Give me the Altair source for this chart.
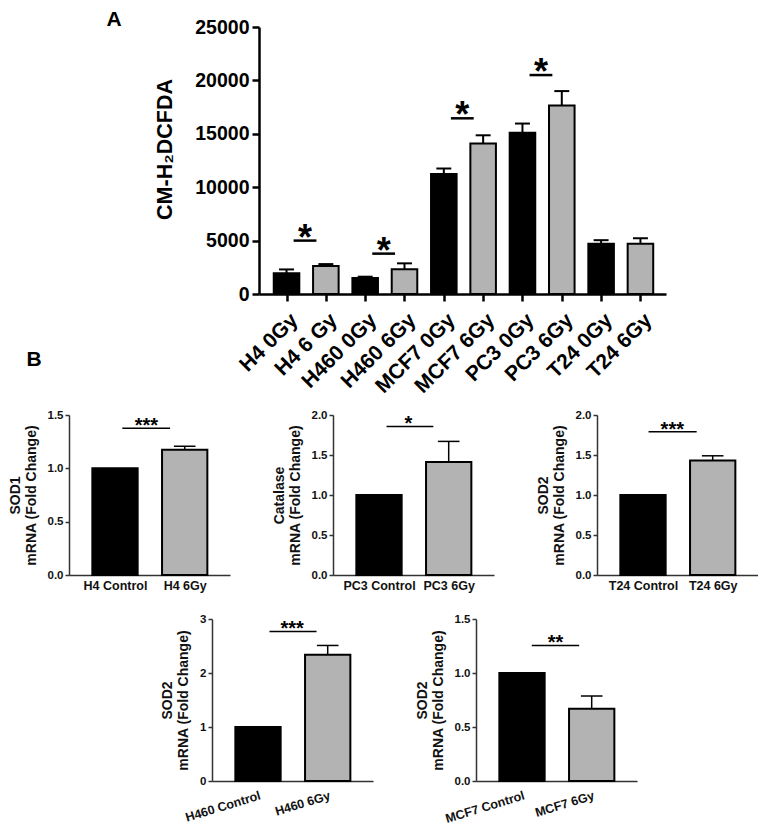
import json
import altair as alt
import pandas as pd

FONT = "Liberation Sans"

# ---------------- Panel A data ----------------
a_categories = ["H4 0Gy", "H4 6 Gy", "H460 0Gy", "H460 6Gy", "MCF7 0Gy",
                "MCF7 6Gy", "PC3 0Gy", "PC3 6Gy", "T24 0Gy", "T24 6Gy"]
a_groups = ["0Gy", "6Gy", "0Gy", "6Gy", "0Gy", "6Gy", "0Gy", "6Gy", "0Gy", "6Gy"]
a_means = [1950, 2630, 1500, 2320, 11240, 14100, 15100, 17650, 4700, 4700]
a_errors = [350, 170, 120, 550, 510, 760, 860, 1350, 340, 520]
a_sig_left = [0, 2, 4, 6]
a_sig_level = [5000, 3780, 16450, 20500]
a_sig_label = ["*", "*", "*", "*"]
a_y_ticks = [0, 5000, 10000, 15000, 20000, 25000]
a_y_title = "CM-H\u2082DCFDA"

# ---------------- Panel B data ----------------
b_titles = [["SOD1", "mRNA (Fold Change)"],
            ["Catalase", "mRNA (Fold Change)"],
            ["SOD2", "mRNA (Fold Change)"],
            ["SOD2", "mRNA (Fold Change)"],
            ["SOD2", "mRNA (Fold Change)"]]
b_categories = [["H4 Control", "H4 6Gy"],
                ["PC3 Control", "PC3 6Gy"],
                ["T24 Control", "T24 6Gy"],
                ["H460 Control", "H460 6Gy"],
                ["MCF7 Control", "MCF7 6Gy"]]
b_means = [[1.0, 1.174], [1.0, 1.413], [1.0, 1.432], [1.0, 2.34], [1.0, 0.67]]
b_errors = [[0, 0.033], [0, 0.257], [0, 0.058], [0, 0.17], [0, 0.117]]
b_sig_level = [1.376, 1.857, 1.79, 2.77, 1.255]
b_sig_label = ["***", "*", "***", "***", "**"]
b_y_max = [1.5, 2.0, 2.0, 3.0, 1.5]
b_y_ticks = [[0, 0.5, 1.0, 1.5],
             [0, 0.5, 1.0, 1.5, 2.0],
             [0, 0.5, 1.0, 1.5, 2.0],
             [0, 1, 2, 3],
             [0, 0.5, 1.0, 1.5]]
b_y_format = [".1f", ".1f", ".1f", "d", ".1f"]

# ---------------- layout / style constants ----------------
A_W, A_H = 407, 267
A_X_DOMAIN = [-0.7, 9.65]
BAR_HALF = 0.325
A_CAP_HALF = 0.19
B_CAP_HALF = 0.155
A_SIG_SPAN = (0.18, 0.76)
A_STAR_POS = 0.47
B_SIG_SPAN = [(0.105, 0.79), (0.108, 0.78), (0.08, 0.77), (0.165, 0.84), (0.14, 0.82)]
B_STAR_POS = [0.45, 0.42, 0.42, 0.49, 0.48]
B_W = 161
B_X_DOMAIN = [-0.66, 1.65]
A_GRAY = "#b3b3b3"
B_GRAY = "#a5a5a9"


def one_row():
    return pd.DataFrame({"v": [0]})


def spacer(w, h, y_top, y_bottom):
    return alt.Chart(one_row()).mark_rule(opacity=0).encode(
        x=alt.value(0), y=alt.value(y_top), y2=alt.value(y_bottom)
    ).properties(width=w, height=h)


def a_chart():
    idx = list(range(len(a_categories)))
    df = pd.DataFrame({"i": idx, "grp": a_groups, "mean": a_means, "err": a_errors})
    xs = alt.Scale(domain=A_X_DOMAIN, nice=False, zero=False)
    ys = alt.Scale(domain=[0, 25000], nice=False)
    x_axis = alt.Axis(values=idx, labelExpr=json.dumps(a_categories) + "[datum.value]",
                      labelAngle=315, labelAlign="right", labelBaseline="top",
                      labelFontSize=21, labelFontWeight="bold", labelColor="black",
                      labelPadding=8, labelOverlap=False,
                      tickSize=7, tickWidth=2.5, tickColor="black",
                      domainWidth=2.5, domainColor="black", grid=False, title="")
    y_axis = alt.Axis(values=a_y_ticks, format="d", labelFontSize=19.5, labelFontWeight="bold",
                      labelColor="black", labelPadding=3, tickSize=7, tickWidth=2.5,
                      tickColor="black", domainWidth=2.5, domainColor="black", grid=False,
                      title=a_y_title, titleFontSize=21.5, titleFontWeight="bold",
                      titleColor="black", titlePadding=18, titleY=122)

    def X(f):
        return alt.X(f, scale=xs, axis=x_axis)

    def Y(f):
        return alt.Y(f, scale=ys, axis=y_axis)

    base = alt.Chart(df).transform_calculate(
        x1=f"datum.i - {BAR_HALF}", x2=f"datum.i + {BAR_HALF}",
        c1=f"datum.i - {A_CAP_HALF}", c2=f"datum.i + {A_CAP_HALF}",
        top="datum.mean + datum.err", zero="0")
    bars = base.mark_bar(stroke="black", strokeWidth=2).encode(
        x=X("x1:Q"), x2="x2:Q", y=Y("mean:Q"), y2="zero:Q",
        color=alt.Color("grp:N", scale=alt.Scale(domain=["0Gy", "6Gy"], range=["#000000", A_GRAY]),
                        legend=None))
    err = base.mark_rule(color="black", strokeWidth=2).encode(
        x=X("i:Q"), y=Y("mean:Q"), y2="top:Q")
    caps = base.mark_rule(color="black", strokeWidth=2).encode(
        x=X("c1:Q"), x2="c2:Q", y=Y("top:Q"))
    sig_df = pd.DataFrame({"left": a_sig_left, "level": a_sig_level, "label": a_sig_label})
    sig = alt.Chart(sig_df).transform_calculate(
        s1=f"datum.left + {A_SIG_SPAN[0]}", s2=f"datum.left + {A_SIG_SPAN[1]}",
        sx=f"datum.left + {A_STAR_POS}")
    lines = sig.mark_rule(color="black", strokeWidth=2.5).encode(
        x=X("s1:Q"), x2="s2:Q", y=Y("level:Q"))
    stars = sig.mark_text(fontSize=36, fontWeight="bold", baseline="alphabetic", dy=9,
                          color="black").encode(
        x=X("sx:Q"), y=Y("level:Q"), text="label:N")
    letter_a = alt.Chart(one_row()).mark_text(fontSize=21, fontWeight="bold", align="center",
                                              baseline="middle", color="black").encode(
        x=alt.value(-145), y=alt.value(-7), text=alt.value("A"))
    letter_b = alt.Chart(one_row()).mark_text(fontSize=21, fontWeight="bold", align="center",
                                              baseline="middle", color="black").encode(
        x=alt.value(-225), y=alt.value(333), text=alt.value("B"))
    return alt.layer(bars, err, caps, lines, stars, letter_a, letter_b).properties(
        width=A_W, height=A_H)


def b_chart(k, height, angle, marker=None):
    df = pd.DataFrame({"i": [0, 1], "grp": ["0Gy", "6Gy"], "mean": b_means[k], "err": b_errors[k]})
    xs = alt.Scale(domain=B_X_DOMAIN, nice=False, zero=False)
    ys = alt.Scale(domain=[0, b_y_max[k]], nice=False)
    rotated = angle != 0
    x_axis = alt.Axis(values=[0, 1], labelExpr=json.dumps(b_categories[k]) + "[datum.value]",
                      labelAngle=angle, labelAlign="right" if rotated else "center",
                      labelBaseline="top", labelFontSize=12.5, labelFontWeight="bold",
                      labelColor="#111111", labelPadding=8 if rotated else 4,
                      labelOverlap=False, ticks=False,
                      domainWidth=1.5, domainColor="#333333", grid=False, title="")
    y_axis = alt.Axis(values=b_y_ticks[k], format=b_y_format[k], labelFontSize=11.5,
                      labelFontWeight="bold", labelColor="#111111", labelPadding=2,
                      tickSize=4, tickWidth=1.5, tickColor="#333333",
                      domainWidth=1.5, domainColor="#333333", grid=False,
                      title=b_titles[k], titleFontSize=14, titleFontWeight="bold",
                      titleColor="#111111", titlePadding=9)

    def X(f):
        return alt.X(f, scale=xs, axis=x_axis)

    def Y(f):
        return alt.Y(f, scale=ys, axis=y_axis)

    base = alt.Chart(df).transform_calculate(
        x1=f"datum.i - {BAR_HALF}", x2=f"datum.i + {BAR_HALF}",
        c1=f"datum.i - {B_CAP_HALF}", c2=f"datum.i + {B_CAP_HALF}",
        top="datum.mean + datum.err", zero="0")
    bars = base.mark_bar(stroke="black", strokeWidth=2).encode(
        x=X("x1:Q"), x2="x2:Q", y=Y("mean:Q"), y2="zero:Q",
        color=alt.Color("grp:N", scale=alt.Scale(domain=["0Gy", "6Gy"], range=["#000000", B_GRAY]),
                        legend=None))
    eb = base.transform_filter("datum.err > 0")
    err = eb.mark_rule(color="black", strokeWidth=1.5).encode(
        x=X("i:Q"), y=Y("mean:Q"), y2="top:Q")
    caps = eb.mark_rule(color="black", strokeWidth=1.5).encode(
        x=X("c1:Q"), x2="c2:Q", y=Y("top:Q"))
    sig_df = pd.DataFrame({"level": [b_sig_level[k]], "label": [b_sig_label[k]]})
    sig = alt.Chart(sig_df).transform_calculate(
        s1=str(B_SIG_SPAN[k][0]), s2=str(B_SIG_SPAN[k][1]), sx=str(B_STAR_POS[k]))
    line = sig.mark_rule(color="black", strokeWidth=1.5).encode(
        x=X("s1:Q"), x2="s2:Q", y=Y("level:Q"))
    stars = sig.mark_text(fontSize=20, fontWeight="bold", baseline="alphabetic", dy=3.7,
                          color="black").encode(
        x=X("sx:Q"), y=Y("level:Q"), text="label:N")
    layers = [bars, err, caps, line, stars]
    if marker is not None:
        layers.append(alt.Chart(one_row()).mark_rule(opacity=0).encode(
            x=alt.value(0), y=alt.value(marker[0]), y2=alt.value(marker[1])))
    return alt.layer(*layers).properties(width=B_W, height=height)


row1 = alt.hconcat(spacer(190, A_H, -19, 372), a_chart(), spacing=0, bounds="flush")
row2 = alt.hconcat(b_chart(0, 160, 0, marker=(-16, 190)), b_chart(1, 160, 0), b_chart(2, 160, 0),
                   spacing=103, bounds="flush")
row3 = alt.hconcat(spacer(40, 162, -14, 0), b_chart(3, 162, 343), b_chart(4, 162, 343),
                   spacing=103, bounds="flush")

chart = alt.vconcat(row1, row2, row3, spacing=0).properties(padding=0).configure(
    font=FONT).configure_view(strokeWidth=0)

chart.save("out.html", embed_options={"renderer": "svg", "actions": False})
